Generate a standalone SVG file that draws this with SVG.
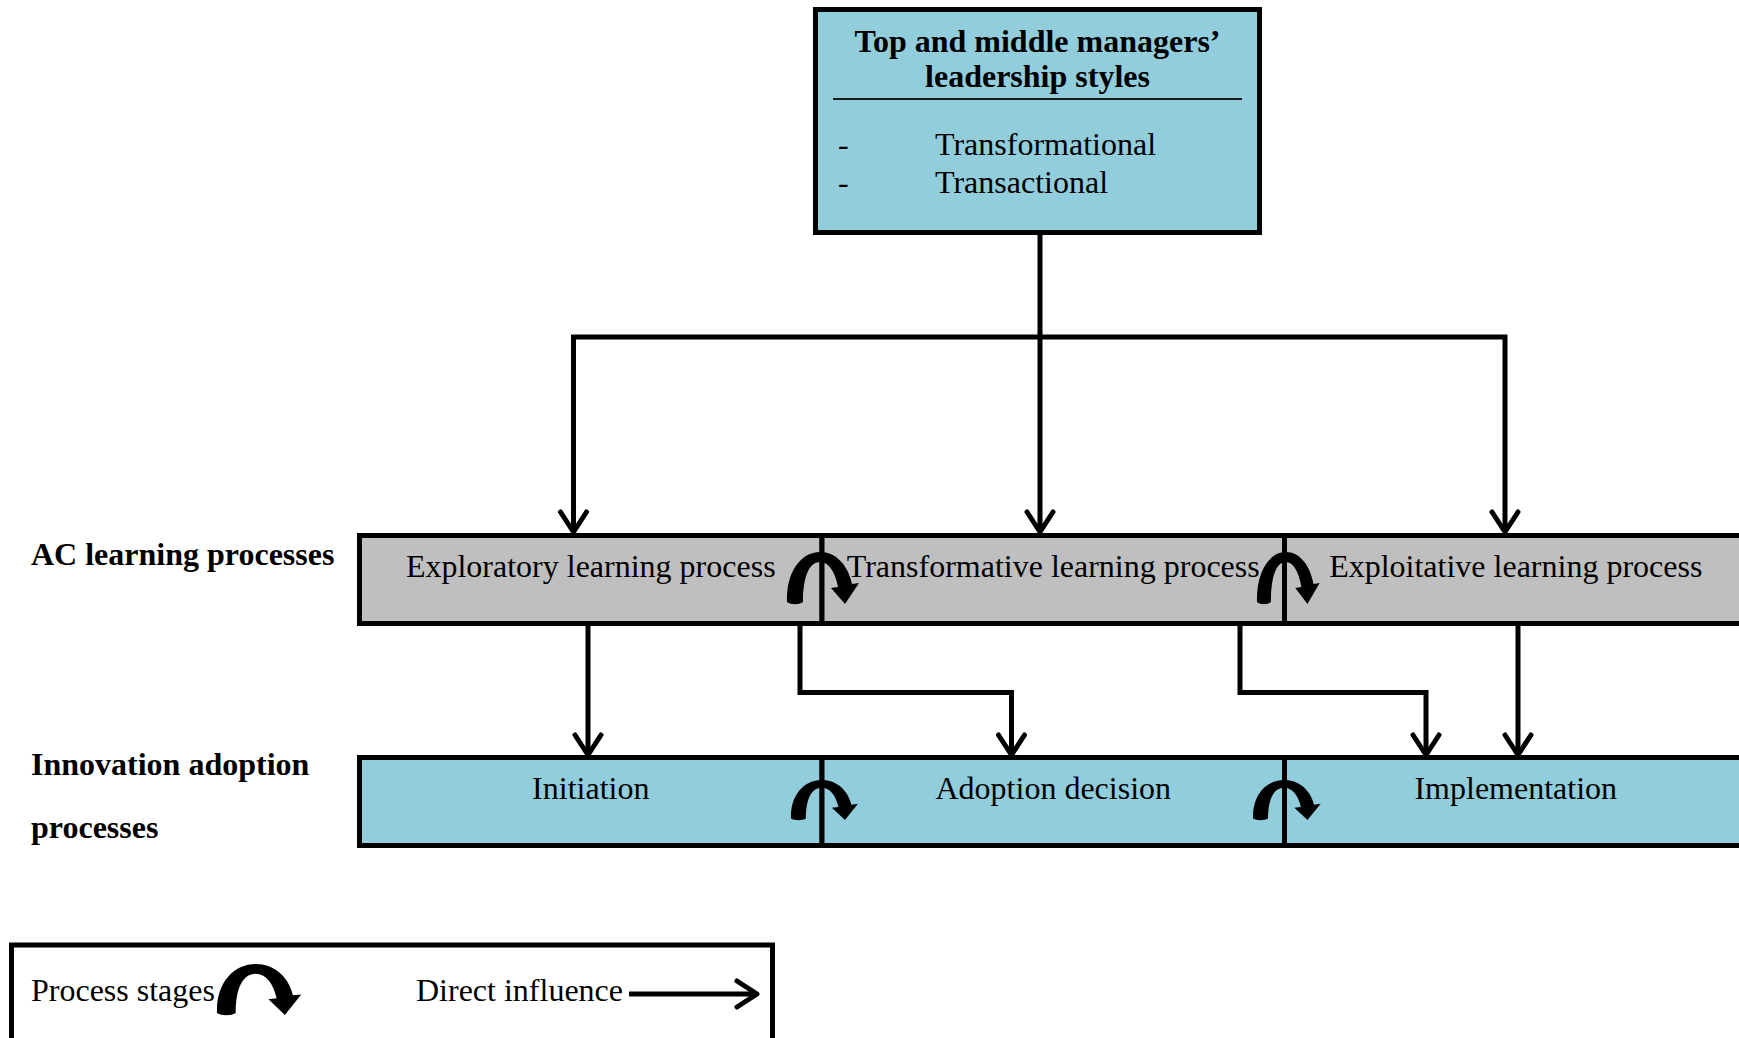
<svg xmlns="http://www.w3.org/2000/svg" width="1739" height="1038" viewBox="0 0 1739 1038">
  <style>
    .box{stroke:#000;stroke-width:5}
    .blue{fill:#92CDDC}
    .grey{fill:#BFBFBF}
    .t{font-family:"Liberation Serif","Times New Roman",serif;font-size:32px;fill:#000}
    .b{font-weight:bold}
    .c{text-anchor:middle}
    .wire{fill:none;stroke:#000;stroke-width:5;marker-end:url(#arrow)}
    .stage{fill:#000}
  </style>
  <defs>
    <!-- open chevron head used by every direct-influence line -->
    <marker id="arrow" markerUnits="userSpaceOnUse" markerWidth="40" markerHeight="40" viewBox="-30 -20 40 40" refX="0" refY="0" orient="auto" overflow="visible">
      <path d="M-20 -13 L0 0 L-20 13" fill="none" stroke="#000" stroke-width="5" stroke-linecap="round" stroke-linejoin="round"/>
    </marker>
    <!-- curved "next stage" arrow, origin at the outer edge of its left foot / top of the arc -->
    <path id="stage" d="M0 50 C-1 20 14 0 33 0 C49 0 61 13 65 32 L72 31 L58 52 L44 36 L51 35 C48 20 42 10 33 10 C22 10 16 25 16 50 C12 53 4 53 0 50 Z"/>
  </defs>

  <!-- leadership styles -->
  <g id="leadership">
    <rect class="box blue" x="815.5" y="9.5" width="444" height="223"/>
    <text class="t b c" x="1037.5" y="52">Top and middle managers’</text>
    <text class="t b c" x="1037.5" y="87">leadership styles</text>
    <line x1="833" y1="99" x2="1242" y2="99" stroke="#1a1a1a" stroke-width="2"/>
    <text class="t" x="838" y="155">-</text>
    <text class="t" x="935" y="155">Transformational</text>
    <text class="t" x="838" y="193">-</text>
    <text class="t" x="935" y="193">Transactional</text>
  </g>

  <!-- row labels -->
  <g id="row-labels">
    <text class="t b" x="31" y="565">AC learning processes</text>
    <text class="t b" x="31" y="775">Innovation adoption</text>
    <text class="t b" x="31" y="838">processes</text>
  </g>

  <!-- AC learning processes -->
  <g id="exploratory">
    <rect class="box grey" x="359.5" y="535.5" width="462.5" height="88"/>
    <text class="t c" x="590.75" y="577">Exploratory learning process</text>
  </g>
  <g id="transformative">
    <rect class="box grey" x="822" y="535.5" width="462.5" height="88"/>
    <text class="t c" x="1053.25" y="577">Transformative learning process</text>
  </g>
  <g id="exploitative">
    <rect class="box grey" x="1284.5" y="535.5" width="480" height="88"/>
    <text class="t c" x="1515.75" y="577">Exploitative learning process</text>
  </g>

  <!-- innovation adoption processes -->
  <g id="initiation">
    <rect class="box blue" x="359.5" y="757.5" width="462.5" height="88"/>
    <text class="t c" x="590.75" y="799">Initiation</text>
  </g>
  <g id="adoption">
    <rect class="box blue" x="822" y="757.5" width="462.5" height="88"/>
    <text class="t c" x="1053.25" y="799">Adoption decision</text>
  </g>
  <g id="implementation">
    <rect class="box blue" x="1284.5" y="757.5" width="480" height="88"/>
    <text class="t c" x="1515.75" y="799">Implementation</text>
  </g>

  <!-- stage transitions -->
  <g id="stage-arrows" class="stage">
    <use href="#stage" transform="translate(787 552)"/>
    <use href="#stage" transform="translate(1257 552) scale(0.87 1)"/>
    <use href="#stage" transform="translate(791 780) scale(0.93 0.77)"/>
    <use href="#stage" transform="translate(1253 780) scale(0.94 0.77)"/>
  </g>

  <!-- direct influences -->
  <g id="connectors">
    <path class="wire" d="M1040 233 V532"/>
    <path class="wire" d="M1040 337 H573.5 V532"/>
    <path class="wire" d="M1040 337 H1505 V532"/>
    <path class="wire" d="M588 626 V755"/>
    <path class="wire" d="M800 626 V692.5 H1011.5 V755"/>
    <path class="wire" d="M1240 626 V692.5 H1426 V755"/>
    <path class="wire" d="M1518 626 V755"/>
  </g>

  <!-- legend -->
  <g id="legend">
    <rect x="11.5" y="945" width="761" height="100" fill="#fff" stroke="#000" stroke-width="5"/>
    <text class="t" x="31" y="1001">Process stages</text>
    <use class="stage" href="#stage" transform="translate(217 964) scale(1.17 0.98)"/>
    <text class="t" x="416" y="1001">Direct influence</text>
    <path class="wire" d="M629 994 H757"/>
  </g>
</svg>
